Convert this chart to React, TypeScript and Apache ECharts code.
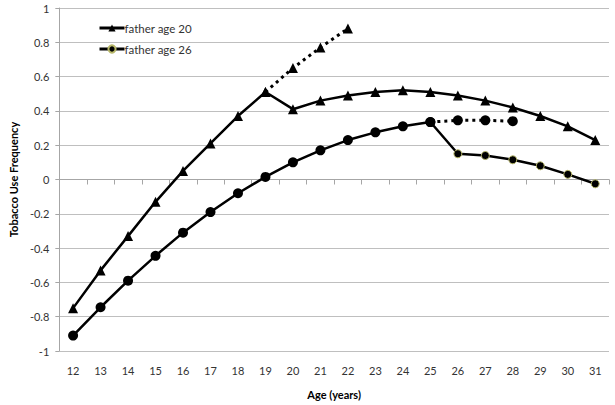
import React, { useEffect, useRef } from "react";
import * as echarts from "echarts";

const ages = ["12","13","14","15","16","17","18","19","20","21","22","23","24","25","26","27","28","29","30","31"];
const father20 = [-0.75,-0.53,-0.33,-0.13,0.05,0.21,0.37,0.51,0.41,0.46,0.49,0.51,0.52,0.51,0.49,0.46,0.42,0.37,0.31,0.23];
const father20Dotted = [null,null,null,null,null,null,null,0.51,0.65,0.77,0.88,null,null,null,null,null,null,null,null,null];
const father26 = [-0.91,-0.745,-0.59,-0.445,-0.31,-0.19,-0.08,0.015,0.10,0.17,0.23,0.275,0.31,0.335,0.15,0.14,0.115,0.08,0.03,-0.025];
const father26Dotted = [null,null,null,null,null,null,null,null,null,null,null,null,null,0.335,0.345,0.345,0.34,null,null,null];
const yTicks = { min: -1, max: 1, interval: 0.2 };

const FONT = "Lato, 'Liberation Sans', sans-serif";
const OLIVE = "#b8b86a";

export default function App() {
  const ref = useRef<HTMLDivElement>(null);
  useEffect(() => {
    const chart = echarts.init(ref.current!, null, { renderer: "svg" });
    const f26Data = father26.map((v, i) =>
      i <= 13
        ? { value: v, symbolSize: 10, itemStyle: { color: "#000", borderColor: "#000", borderWidth: 0 } }
        : { value: v, symbolSize: 8, itemStyle: { color: "#000", borderColor: OLIVE, borderWidth: 1 } }
    );
    chart.setOption({
      animation: false,
      textStyle: { fontFamily: FONT },
      grid: { left: 49, right: 6, top: 8, bottom: 53, containLabel: false },
      legend: {
        left: 93,
        top: 17,
        orient: "vertical",
        itemGap: 9,
        itemWidth: 25,
        itemHeight: 9,
        lineStyle: { width: 3 },
        data: ["father age 20", "father age 26"],
        textStyle: { fontSize: 11.5, color: "#333", fontFamily: FONT, padding: [0, 0, 0, -5] },
      },
      xAxis: {
        type: "category",
        data: ages,
        boundaryGap: true,
        name: "Age (years)",
        nameLocation: "middle",
        nameGap: 38,
        nameTextStyle: { fontWeight: "bold", fontSize: 11, color: "#000", fontFamily: FONT },
        axisLine: { lineStyle: { color: "#a6a6a6" } },
        axisTick: { show: true, length: 5, lineStyle: { color: "#a6a6a6" } },
        axisLabel: { color: "#333", fontSize: 11, margin: 14 },
        splitLine: { show: false },
      },
      yAxis: {
        type: "value",
        min: yTicks.min,
        max: yTicks.max,
        interval: yTicks.interval,
        name: "Tobacco Use Frequency",
        nameLocation: "middle",
        nameGap: 38,
        nameRotate: 90,
        nameTextStyle: { fontWeight: "bold", fontSize: 11, color: "#000", fontFamily: FONT },
        axisLine: { show: true, lineStyle: { color: "#a6a6a6" } },
        axisTick: { show: true, length: 4, lineStyle: { color: "#a6a6a6" } },
        axisLabel: { color: "#333", fontSize: 11, margin: 10 },
        splitLine: { show: true, lineStyle: { color: "#bfbfbf", width: 1 } },
      },
      series: [
        {
          name: "father age 20",
          type: "line",
          data: father20,
          symbol: "triangle",
          symbolSize: 10,
          lineStyle: { color: "#000", width: 2.5 },
          itemStyle: { color: "#000" },
          z: 3,
        },
        {
          name: "father age 20 dotted",
          type: "line",
          data: father20Dotted,
          symbol: "triangle",
          symbolSize: 10,
          connectNulls: false,
          lineStyle: { color: "#000", width: 3, type: [3, 4] },
          itemStyle: { color: "#000" },
          z: 3,
        },
        {
          name: "father age 26",
          type: "line",
          data: f26Data,
          symbol: "circle",
          symbolSize: 8,
          lineStyle: { color: "#000", width: 2.5 },
          itemStyle: { color: "#000", borderColor: OLIVE, borderWidth: 1 },
          z: 3,
        },
        {
          name: "father age 26 dotted",
          type: "line",
          data: father26Dotted,
          symbol: "circle",
          symbolSize: 10,
          lineStyle: { color: "#000", width: 3, type: [3, 4] },
          itemStyle: { color: "#000" },
          z: 2,
        },
      ],
    });
    return () => chart.dispose();
  }, []);
  return <div ref={ref} style={{ width: 615, height: 405, position: "absolute", left: 0, top: 0 }} />;
}
